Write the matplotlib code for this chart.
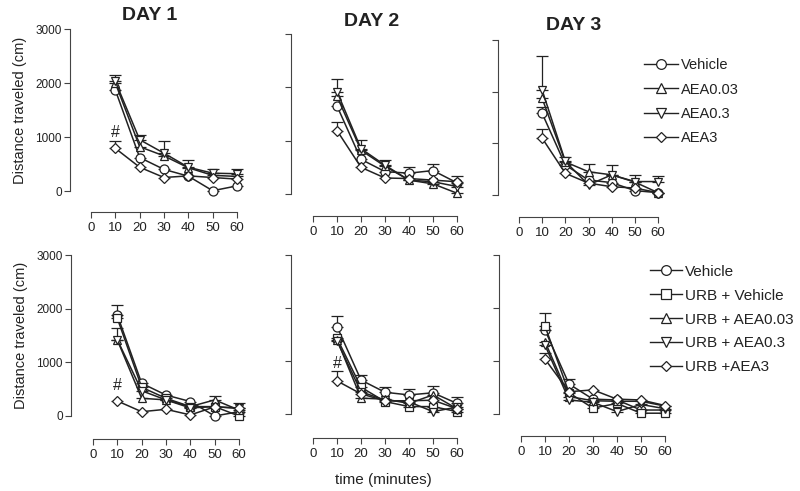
import numpy as np
import matplotlib
matplotlib.use("Agg")
import matplotlib.pyplot as plt
from matplotlib.lines import Line2D

nan = np.nan

# time points (minutes)
times = [10, 20, 30, 40, 50, 60]

# ---- top row: AEA alone ----
top_labels = ["Vehicle", "AEA0.03", "AEA0.3", "AEA3"]
top_markers = ["o", "^", "v", "D"]

# day 1
d1_veh = [1870, 620, 400, 275, 5, 95]
d1_aea003 = [2000, 820, 650, 430, 290, 270]
d1_aea03 = [2030, 950, 700, 440, 330, 320]
d1_aea3 = [790, 440, 250, 280, 250, 220]
d1_veh_err = [nan, nan, nan, nan, nan, nan]
d1_aea003_err = [nan, nan, nan, nan, nan, nan]
d1_aea03_err = [110, 85, 225, 135, 75, 80]
d1_aea3_err = [135, nan, nan, nan, nan, nan]

# day 2
d2_veh = [1650, 650, 420, 390, 440, 210]
d2_aea003 = [1830, 820, 520, 260, 190, 15]
d2_aea03 = [1920, 850, 540, 260, 230, 140]
d2_aea3 = [1190, 500, 300, 290, 260, 230]
d2_veh_err = [nan, nan, nan, 110, 125, 130]
d2_aea003_err = [nan, nan, nan, nan, nan, nan]
d2_aea03_err = [240, 165, 100, nan, nan, nan]
d2_aea3_err = [160, nan, nan, nan, nan, nan]

# day 3
d3_veh = [1580, 580, 290, 240, 85, 45]
d3_aea003 = [1870, 640, 450, 390, 250, 45]
d3_aea03 = [2030, 650, 195, 390, 260, 260]
d3_aea3 = [1100, 420, 230, 160, 135, 45]
d3_veh_err = [130, nan, nan, nan, nan, nan]
d3_aea003_err = [nan, nan, 150, 190, 140, nan]
d3_aea03_err = [660, 80, nan, nan, nan, 110]
d3_aea3_err = [170, nan, nan, nan, nan, nan]

# ---- bottom row: URB + AEA ----
bot_labels = ["Vehicle", "URB + Vehicle", "URB + AEA0.03", "URB + AEA0.3", "URB +AEA3"]
bot_markers = ["o", "s", "^", "v", "D"]

u1_veh = [1880, 610, 390, 270, 0, 80]
u1_urb = [1820, 535, 330, 175, 175, 0]
u1_003 = [1415, 330, 300, 175, 300, 110]
u1_03 = [1420, 470, 300, 150, 175, 140]
u1_3 = [280, 80, 125, 20, 170, 150]
u1_veh_err = [190, nan, nan, nan, nan, nan]
u1_urb_err = [nan, nan, nan, nan, nan, nan]
u1_003_err = [220, nan, nan, nan, 80, 130]
u1_03_err = [nan, nan, nan, nan, nan, nan]
u1_3_err = [nan, nan, nan, nan, nan, nan]

u2_veh = [1650, 640, 410, 360, 400, 200]
u2_urb = [1430, 505, 235, 140, 140, 45]
u2_003 = [1400, 300, 280, 200, 360, 100]
u2_03 = [1380, 420, 260, 230, 45, 130]
u2_3 = [625, 380, 250, 250, 260, 100]
u2_veh_err = [200, 95, 95, 105, 130, 125]
u2_urb_err = [nan, nan, nan, nan, nan, nan]
u2_003_err = [nan, nan, nan, nan, nan, nan]
u2_03_err = [nan, nan, nan, nan, nan, nan]
u2_3_err = [190, nan, nan, nan, nan, nan]

u3_veh = [1585, 565, 280, 265, 75, 75]
u3_urb = [1660, 400, 110, 200, 15, 15]
u3_003 = [1365, 330, 250, 240, 240, 150]
u3_03 = [1300, 265, 220, 45, 180, 100]
u3_3 = [1035, 420, 455, 280, 265, 160]
u3_veh_err = [nan, 90, nan, nan, nan, nan]
u3_urb_err = [240, nan, nan, nan, nan, nan]
u3_003_err = [nan, nan, nan, nan, nan, nan]
u3_03_err = [nan, nan, nan, nan, nan, nan]
u3_3_err = [125, nan, nan, nan, nan, nan]

day_titles = ["DAY 1", "DAY 2", "DAY 3"]

plt.rcParams['font.family'] = ['Liberation Sans', 'DejaVu Sans']
ink = '#222222'
axcol = '#444444'
PT = 0.72  # points per pixel at 100 dpi

fig = plt.figure(figsize=(8.0, 4.91), dpi=100)

def px_axes(x0, x60, y3000, y0):
    # axes rect from pixel positions of x=0/60 and y=3000/0
    return fig.add_axes([x0 / 800, 1 - y0 / 491, (x60 - x0) / 800, (y0 - y3000) / 491])

def msize(m):
    return {"o": 6.5, "D": 5, "s": 6}.get(m, 6)

def draw_panel(ax, series, errs, markers, show_ylabels, yout, xout):
    for y, e, m in zip(series, errs, markers):
        ax.errorbar(times, y, yerr=[np.zeros(len(e)), e], color=ink, lw=1.1,
                    marker=m, ms=msize(m), mfc='white', mec=ink, mew=0.9,
                    capsize=4, elinewidth=0.9, capthick=0.9, clip_on=False)
    ax.set_xlim(0, 60)
    ax.set_ylim(0, 3000)
    for s in ["top", "right"]:
        ax.spines[s].set_visible(False)
    # axes are detached from the data, pixel offsets -> points
    ax.spines['left'].set_position(('outward', yout * PT))
    ax.spines['bottom'].set_position(('outward', xout * PT))
    ax.spines['left'].set_bounds(0, 3000)
    ax.spines['bottom'].set_bounds(0, 60)
    ax.spines['left'].set_color(axcol)
    ax.spines['bottom'].set_color(axcol)
    ax.set_xticks([0, 10, 20, 30, 40, 50, 60])
    ax.set_yticks([0, 1000, 2000, 3000])
    ax.tick_params(axis='x', direction='out', length=4, width=0.8, colors=axcol,
                   labelsize=9.5, labelcolor=ink, pad=3)
    ax.tick_params(axis='y', direction='out', length=4, width=0.8, colors=axcol,
                   labelsize=8.5, labelcolor=ink, pad=2)
    if not show_ylabels:
        ax.set_yticklabels([])
    else:
        ax.set_ylabel("Distance traveled (cm)", fontsize=10.5, color=ink, labelpad=6)
    ax.patch.set_alpha(0)

# top row
a1 = px_axes(91, 237, 29, 191)
draw_panel(a1, [d1_veh, d1_aea003, d1_aea03, d1_aea3],
           [d1_veh_err, d1_aea003_err, d1_aea03_err, d1_aea3_err],
           top_markers, True, 21, 21)
a2 = px_axes(313, 457, 34, 194)
draw_panel(a2, [d2_veh, d2_aea003, d2_aea03, d2_aea3],
           [d2_veh_err, d2_aea003_err, d2_aea03_err, d2_aea3_err],
           top_markers, False, 22, 22)
a3 = px_axes(519, 658, 40, 195)
draw_panel(a3, [d3_veh, d3_aea003, d3_aea03, d3_aea3],
           [d3_veh_err, d3_aea003_err, d3_aea03_err, d3_aea3_err],
           top_markers, False, 21, 22)

# bottom row
b1 = px_axes(93, 239, 255, 416)
draw_panel(b1, [u1_veh, u1_urb, u1_003, u1_03, u1_3],
           [u1_veh_err, u1_urb_err, u1_003_err, u1_03_err, u1_3_err],
           bot_markers, True, 22, 23)
b2 = px_axes(313, 457, 255, 414)
draw_panel(b2, [u2_veh, u2_urb, u2_003, u2_03, u2_3],
           [u2_veh_err, u2_urb_err, u2_003_err, u2_03_err, u2_3_err],
           bot_markers, False, 22, 24)
b3 = px_axes(521, 665, 255, 414)
draw_panel(b3, [u3_veh, u3_urb, u3_003, u3_03, u3_3],
           [u3_veh_err, u3_urb_err, u3_003_err, u3_03_err, u3_3_err],
           bot_markers, False, 22, 22)

# day titles
fig.text(150 / 800, 1 - 15 / 491, day_titles[0], fontsize=14, fontweight='bold', color=ink, ha='center', va='center')
fig.text(372 / 800, 1 - 21 / 491, day_titles[1], fontsize=14, fontweight='bold', color=ink, ha='center', va='center')
fig.text(574 / 800, 1 - 25 / 491, day_titles[2], fontsize=14, fontweight='bold', color=ink, ha='center', va='center')

# significance marks
a1.text(10, 1080, "#", fontsize=11.5, color=ink, ha='center', va='center')
b1.text(10, 560, "#", fontsize=11.5, color=ink, ha='center', va='center')
b2.text(10, 960, "#", fontsize=11.5, color=ink, ha='center', va='center')

fig.text(383 / 800, 1 - 480 / 491, "time (minutes)", fontsize=11, color=ink, ha='center', va='center')

# legends: plain line + open marker
def handles(markers):
    return [Line2D([], [], color=ink, lw=1.0, marker=m, ms=msize(m) + 0.5, mfc='white',
                   mec=ink, mew=0.9) for m in markers]

fig.legend(handles(top_markers), top_labels, loc='upper left',
           bbox_to_anchor=(637 / 800, 1 - 51 / 491), frameon=False,
           fontsize=10.5, handlelength=2.3, handletextpad=0.2, labelspacing=0.7,
           borderpad=0, labelcolor=ink)
fig.legend(handles(bot_markers), bot_labels, loc='upper left',
           bbox_to_anchor=(642 / 800, 1 - 257 / 491), frameon=False,
           fontsize=11, handlelength=2.1, handletextpad=0.2, labelspacing=0.65,
           borderpad=0, labelcolor=ink)

fig.savefig("out.png", dpi=100, facecolor='white')
